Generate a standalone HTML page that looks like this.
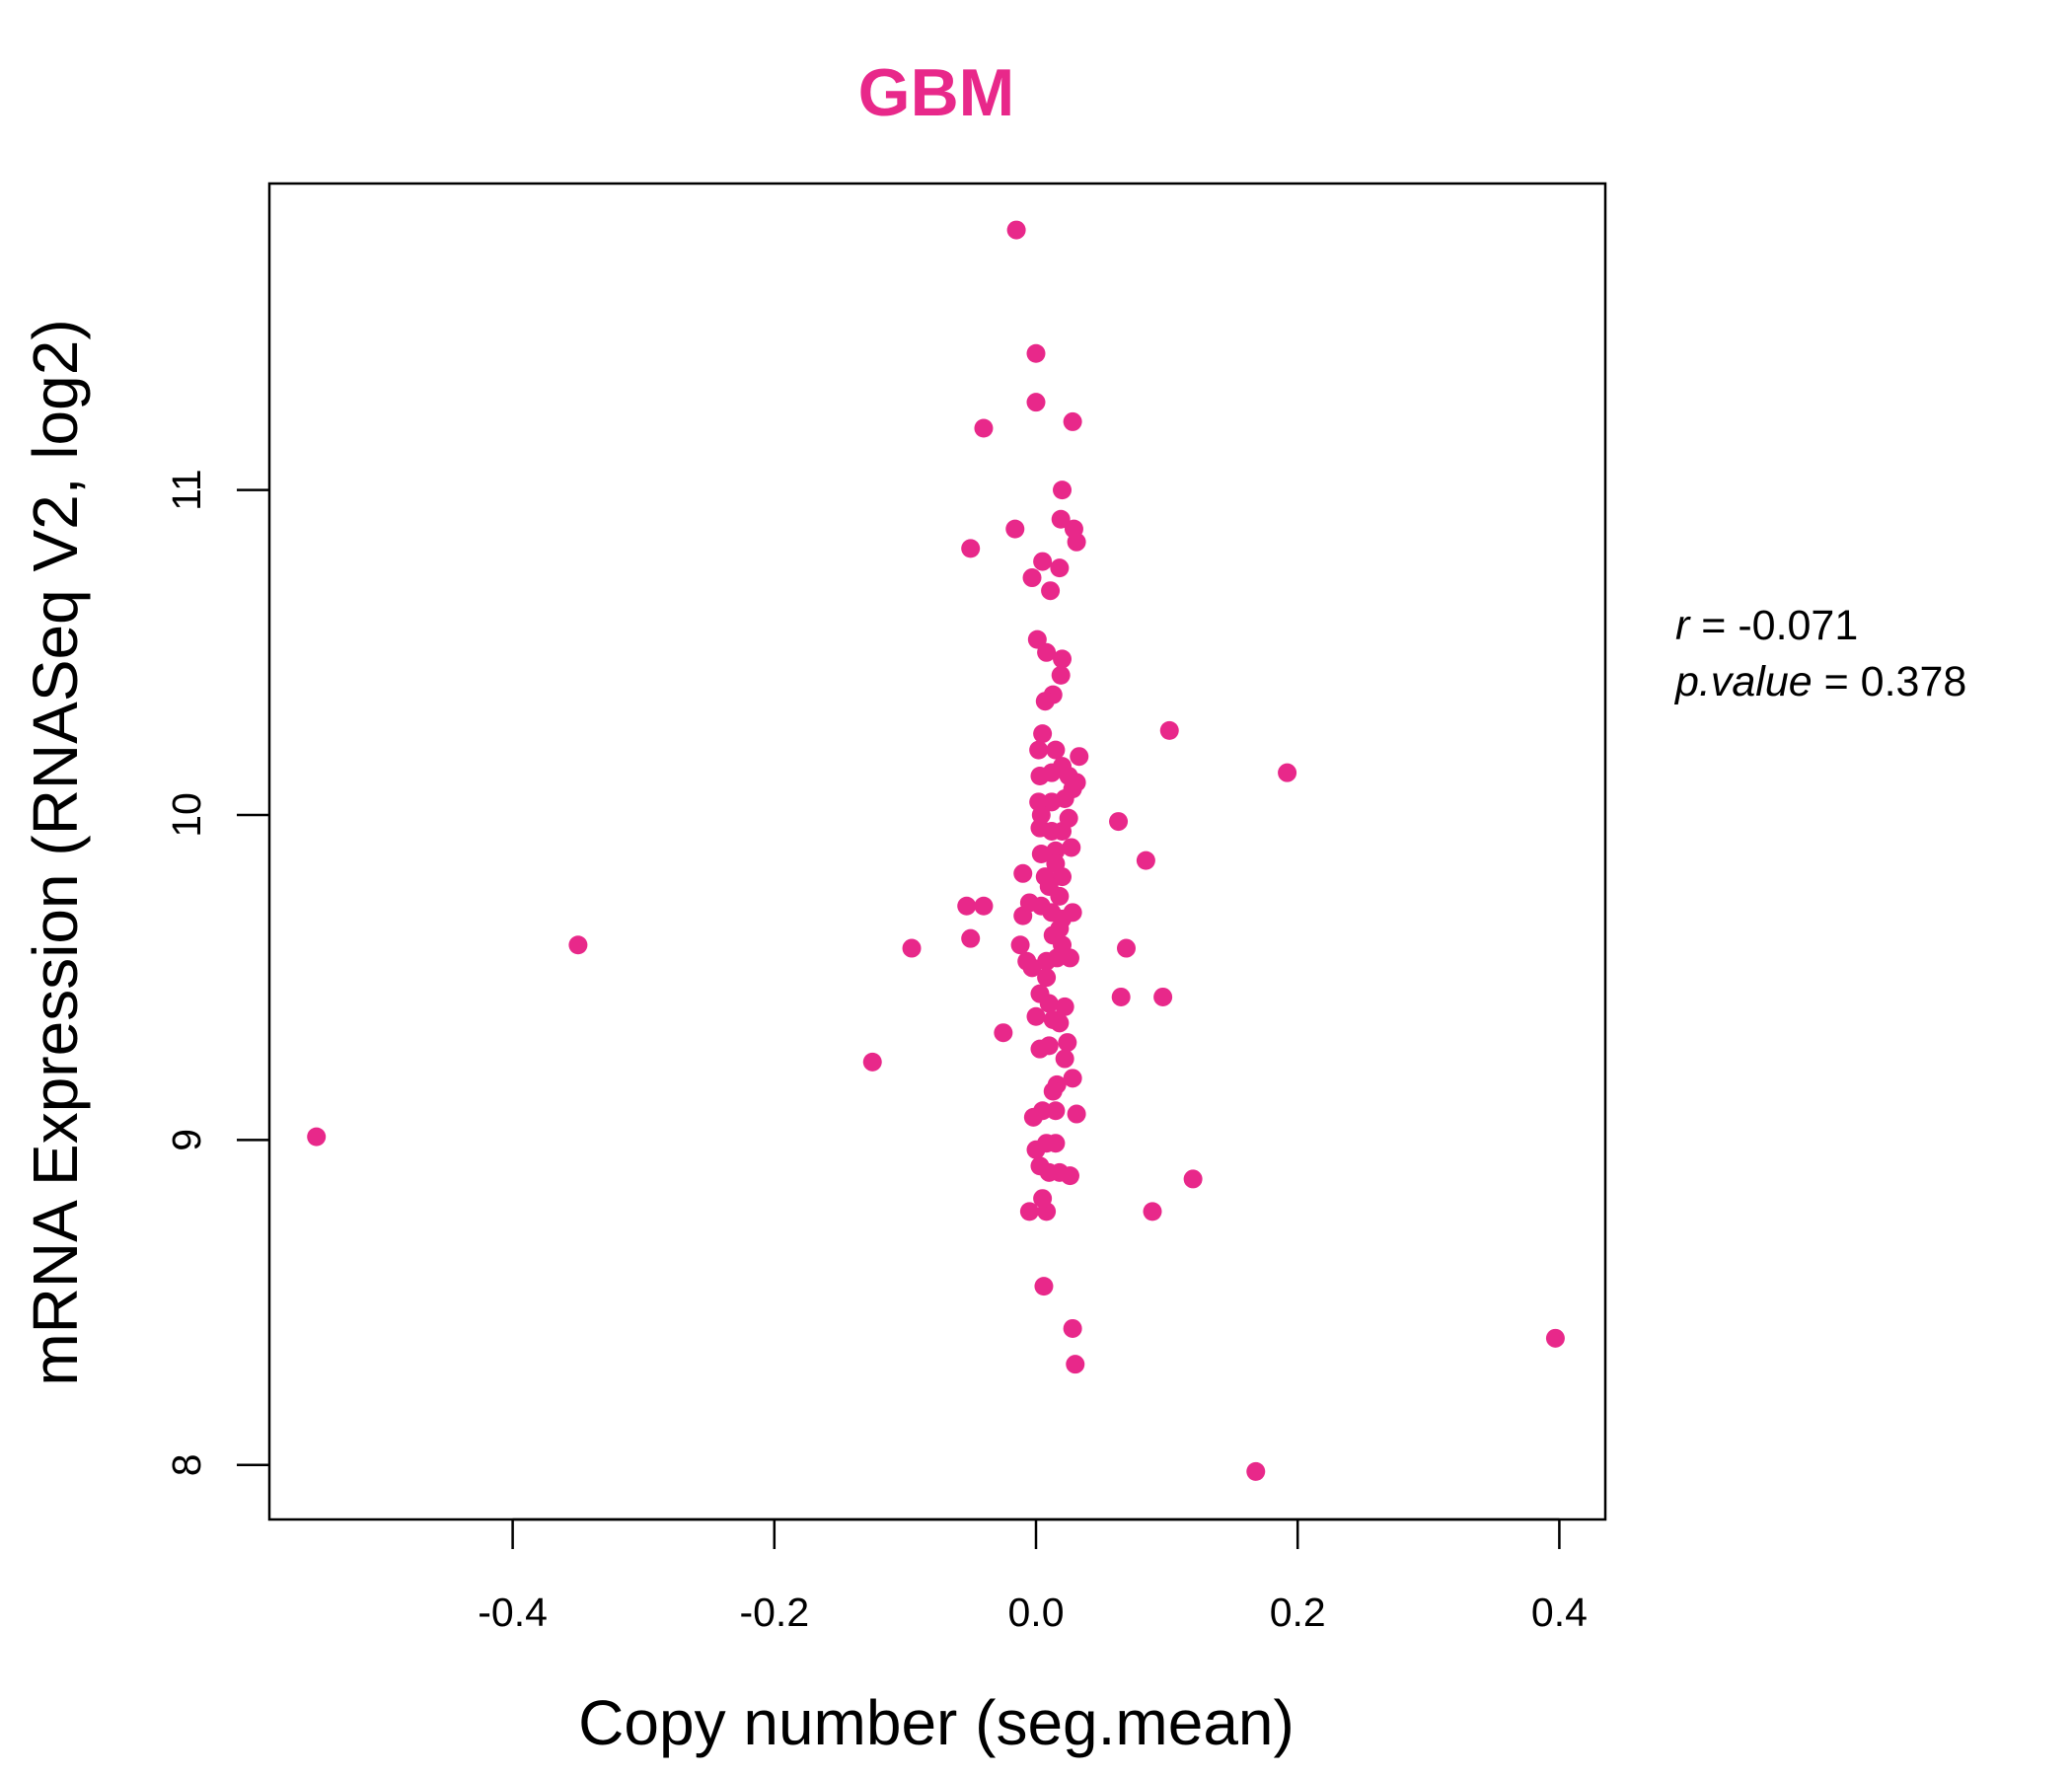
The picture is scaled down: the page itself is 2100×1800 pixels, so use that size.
<!DOCTYPE html>
<html><head><meta charset="utf-8"><style>body{margin:0;background:#fff}svg{display:block;font-family:"Liberation Sans",sans-serif}</style></head>
<body>
<svg id="chart" width="2100" height="1800" viewBox="0 0 2100 1800">
<text x="949" y="117" text-anchor="middle" font-size="68" font-weight="bold" fill="#e8288a">GBM</text>
<rect x="273" y="186" width="1354" height="1354" fill="none" stroke="#000" stroke-width="2.5"/>
<g id="xaxis"></g>
<g id="yaxis"></g>
<g id="points"></g>
<text x="949" y="1768" text-anchor="middle" font-size="64">Copy number (seg.mean)</text>
<text transform="translate(78,864) rotate(-90)" text-anchor="middle" font-size="64">mRNA Expression (RNASeq V2, log2)</text>
<text x="1698" y="648" font-size="43"><tspan font-style="italic">r</tspan> = -0.071</text>
<text x="1698" y="705" font-size="43"><tspan font-style="italic">p.value</tspan> = 0.378</text>
</svg>
<script>
const xTicks=[-0.4,-0.2,0.0,0.2,0.4];
const xTickLabels=["-0.4","-0.2","0.0","0.2","0.4"];
const yTicks=[8,9,10,11];
const yTickLabels=["8","9","10","11"];
const xVals=[-0.55,-0.35,-0.125,-0.095,-0.053,-0.04,-0.05,-0.025,-0.05,-0.016,-0.04,-0.015,0.0,0.0,0.028,0.02,0.019,0.029,0.031,0.005,-0.003,0.011,0.018,0.001,0.008,0.02,0.019,0.013,0.007,0.102,0.192,0.063,0.084,0.069,0.065,0.097,0.12,0.089,0.168,0.397,0.006,0.028,0.03,-0.005,0.008,0.005,0.026,0.01,0.018,0.003,0.0,0.008,0.015,-0.002,0.005,0.015,0.031,0.016,0.028,0.013,0.022,0.024,0.003,0.01,0.0,0.013,0.022,0.018,0.003,0.01,-0.007,-0.012,-0.003,0.008,0.016,0.026,0.02,0.013,-0.01,-0.005,0.004,0.012,0.02,0.028,0.018,-0.01,0.007,0.02,0.004,0.015,0.027,0.003,0.012,0.02,0.025,0.002,0.012,0.022,0.028,0.003,0.012,0.025,0.031,0.033,0.002,0.015,0.02,0.005,0.01,0.018,0.008,0.015,0.004];
const yVals=[9.01,9.60,9.24,9.59,9.72,9.72,9.62,9.33,10.82,10.88,11.19,11.80,11.42,11.27,11.21,11.00,10.91,10.88,10.84,10.78,10.73,10.69,10.76,10.54,10.5,10.48,10.43,10.37,10.35,10.26,10.13,9.98,9.86,9.59,9.44,9.44,8.88,8.78,7.98,8.39,8.55,8.42,8.31,8.78,8.78,8.82,8.89,8.9,8.9,8.92,8.97,8.99,8.99,9.07,9.09,9.09,9.08,9.17,9.19,9.15,9.25,9.3,9.28,9.29,9.38,9.37,9.41,9.36,9.45,9.42,9.55,9.6,9.53,9.55,9.56,9.56,9.6,9.63,9.69,9.73,9.72,9.7,9.68,9.7,9.75,9.82,9.81,9.81,9.88,9.89,9.9,9.96,9.95,9.95,9.99,10.04,10.04,10.05,10.08,10.12,10.13,10.12,10.1,10.18,10.2,10.2,10.15,10.25,9.78,9.65,9.5,9.85,10.0,10.3];
const NS="http://www.w3.org/2000/svg";
function sx(v){return 1050+v*1326;}
function sy(v){return 826-(v-10)*329.4;}
const xa=document.getElementById('xaxis'),ya=document.getElementById('yaxis'),pg=document.getElementById('points');
function mk(tag,attrs,parent){const e=document.createElementNS(NS,tag);for(const k in attrs)e.setAttribute(k,attrs[k]);parent.appendChild(e);return e;}
xa.appendChild(Object.assign(document.createElementNS(NS,'line')));
let ax=xa.lastChild;ax.setAttribute('x1',sx(xTicks[0]));ax.setAttribute('x2',sx(xTicks[xTicks.length-1]));ax.setAttribute('y1',1540);ax.setAttribute('y2',1540);ax.setAttribute('stroke','#000');ax.setAttribute('stroke-width','2.5');
xTicks.forEach((t,i)=>{
 const l=mk('line',{x1:sx(t),x2:sx(t),y1:1540,y2:1570,stroke:'#000','stroke-width':2.5},xa);
 
 
 const tx=mk('text',{x:sx(t),y:1648,'text-anchor':'middle','font-size':41},xa);
 tx.textContent=xTickLabels[i];
 
 
});
yTicks.forEach((t,i)=>{
 const l=mk('line',{x1:240,x2:273,y1:sy(t),y2:sy(t),stroke:'#000','stroke-width':2.5},ya);
 
 
 const tx=mk('text',{transform:`translate(203,${sy(t)}) rotate(-90)`,'text-anchor':'middle','font-size':41},ya);
 tx.textContent=yTickLabels[i];
 
 
});
xVals.forEach((v,i)=>{
 const c=mk('circle',{cx:sx(v),cy:sy(yVals[i]),r:9.5,fill:'#e8288a'},pg);
 
 
});
</script>
</body></html>
